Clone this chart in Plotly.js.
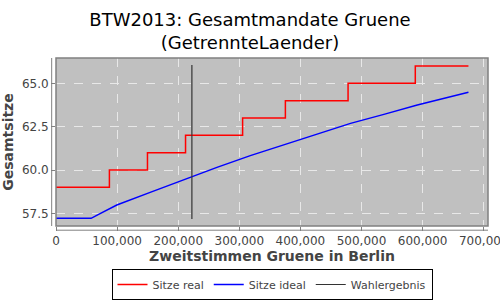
<!DOCTYPE html>
<html><head><meta charset="utf-8">
<script src="https://cdn.plot.ly/plotly-3.0.1.min.js"></script>
<style>body{margin:0}#c{width:500px;height:300px}</style>
</head><body><div id="c"></div>
<script>
var realX = [0, 87400, 149700, 212000, 305400, 375400, 478000, 588000, 675000];
var realY = [59, 60, 61, 62, 63, 64, 65, 66, 66];
var idealX = [0, 57400, 72100, 99500, 154100, 208700, 263400, 318000, 372600, 427300, 482000, 536600, 591300, 675000];
var idealY = [57.21, 57.21, 57.48, 57.98, 58.71, 59.44, 60.15, 60.83, 61.45, 62.08, 62.69, 63.21, 63.75, 64.48];
var wahlX = [222400, 222400];
var wahlY = [57.17, 66.06];
var names = ["Sitze real", "Sitze ideal", "Wahlergebnis"];

var traces = [
  {x: realX, y: realY, name: names[0], mode: "lines", line: {color: "#ff0000", width: 1.5, shape: "hv"}},
  {x: idealX, y: idealY, name: names[1], mode: "lines", line: {color: "#0000ff", width: 1.5}},
  {x: wahlX, y: wahlY, name: names[2], mode: "lines", line: {color: "#333333", width: 1.2}}
];
var axisFont = {family: "DejaVu Sans, sans-serif", size: 12, color: "#444444"};
var layout = {
  width: 500, height: 300,
  margin: {l: 56, r: 12, t: 58, b: 74, autoexpand: false},
  paper_bgcolor: "#ffffff",
  plot_bgcolor: "#c0c0c0",
  font: {family: "DejaVu Sans, sans-serif"},
  title: {text: "BTW2013: Gesamtmandate Gruene<br>(GetrennteLaender)", x: 0.5, xanchor: "center",
          yref: "container", y: 0.915, yanchor: "middle",
          font: {family: "DejaVu Sans, sans-serif", size: 18, color: "#000000"}},
  xaxis: {range: [0, 707000], tickvals: [0,100000,200000,300000,400000,500000,600000,700000], tickformat: ",d",
          tickfont: axisFont, ticks: "outside", ticklen: 4, tickcolor: "#808080", ticklabeloverflow: "allow",
          automargin: false,
          showgrid: true, gridcolor: "#e8e8e8", griddash: "dash", gridwidth: 1, zeroline: false, showline: false,
          title: {text: "<b>Zweitstimmen Gruene in Berlin</b>", standoff: 2, font: {family: "DejaVu Sans, sans-serif", size: 14, color: "#444444"}}},
  yaxis: {range: [56.77, 66.46], tickvals: [57.5, 60, 62.5, 65], tickformat: ".1f",
          tickfont: axisFont, ticks: "outside", ticklen: 4, tickcolor: "#808080",
          automargin: false,
          showgrid: true, gridcolor: "#e8e8e8", griddash: "dash", gridwidth: 1, zeroline: false, showline: false,
          title: {text: "<b>Gesamtsitze</b>", standoff: 4, font: {family: "DejaVu Sans, sans-serif", size: 14, color: "#444444"}}},
  showlegend: true,
  legend: {orientation: "h", x: 0.5, xanchor: "center", yref: "container", y: 0.0, yanchor: "bottom",
           bordercolor: "#000000", borderwidth: 1, font: {family: "DejaVu Sans, sans-serif", size: 11, color: "#444444"},
           itemwidth: 30, tracegroupgap: 0},
  shapes: [
    {type: "rect", xref: "paper", yref: "paper", x0: 0, x1: 1, y0: 0, y1: 1, line: {color: "#808080", width: 1.5}},
    {type: "line", xref: "paper", yref: "paper", x0: -0.01, x1: -0.01, y0: 0, y1: 1, line: {color: "#808080", width: 1}},
    {type: "line", xref: "paper", yref: "paper", x0: 0, x1: 1, y0: -0.025, y1: -0.025, line: {color: "#808080", width: 1}}
  ]
};
Plotly.newPlot("c", traces, layout, {displayModeBar: false, staticPlot: true});
</script></body></html>
